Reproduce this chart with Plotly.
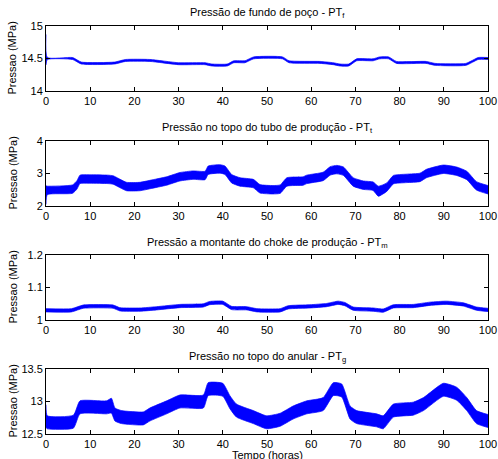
import plotly.graph_objects as go

# ---- Pressure records (MPa) versus time (hours): lower / upper envelope of the noisy signal ----

# PT_f - bottom-hole pressure
t_f = [0, 0.3, 6, 8, 15.5, 18, 23.5, 30, 36, 37.5, 41, 42.5, 45, 47, 53.5, 55, 62, 65,
       66.5, 68.5, 70.3, 74, 75.5, 77.5, 79.3, 86, 88, 95, 97.8, 100]
pt_f_low = [14.40, 14.485, 14.485, 14.415, 14.415, 14.455, 14.455, 14.405, 14.405, 14.385,
            14.385, 14.435, 14.435, 14.495, 14.495, 14.435, 14.425, 14.405, 14.385, 14.385,
            14.465, 14.465, 14.495, 14.495, 14.425, 14.425, 14.395, 14.395, 14.485, 14.485]
pt_f_high = [14.87, 14.515, 14.515, 14.445, 14.445, 14.485, 14.485, 14.435, 14.435, 14.415,
             14.415, 14.465, 14.465, 14.525, 14.525, 14.465, 14.455, 14.435, 14.415, 14.415,
             14.495, 14.495, 14.525, 14.525, 14.455, 14.455, 14.425, 14.425, 14.515, 14.515]

# PT_t - tubing-head pressure
t_t = [0, 0.3, 6, 7, 7.7, 10, 14, 15.2, 18.2, 21.3, 23.5, 27.3, 30.3, 33.3, 36, 36.7, 39.4,
       40.5, 42, 43.9, 46.9, 48.4, 51.4, 53, 54.5, 58.2, 59, 62.7, 64.3, 65.8, 67.3, 69.5,
       71.8, 74, 75.2, 77.1, 78.6, 81.6, 84.6, 86.1, 89.9, 92.9, 95.2, 97.4, 100]
pt_t_low = [2.05, 2.35, 2.39, 2.52, 2.69, 2.70, 2.69, 2.67, 2.47, 2.47, 2.53, 2.64, 2.77,
            2.82, 2.81, 2.97, 3.01, 2.97, 2.71, 2.61, 2.56, 2.40, 2.37, 2.39, 2.61, 2.64,
            2.69, 2.78, 2.95, 2.99, 2.94, 2.61, 2.51, 2.48, 2.30, 2.45, 2.68, 2.72, 2.75,
            2.87, 3.00, 2.94, 2.81, 2.49, 2.37]
pt_t_high = [2.62, 2.61, 2.65, 2.78, 2.95, 2.96, 2.95, 2.93, 2.73, 2.73, 2.79, 2.90, 3.03,
             3.08, 3.07, 3.23, 3.27, 3.23, 2.97, 2.87, 2.82, 2.66, 2.63, 2.65, 2.87, 2.90,
             2.95, 3.04, 3.21, 3.25, 3.20, 2.87, 2.77, 2.74, 2.61, 2.71, 2.94, 2.98, 3.01,
             3.13, 3.26, 3.20, 3.07, 2.75, 2.63]

# PT_m - upstream of the production choke
t_m = [0, 5.8, 8.4, 15.2, 16.7, 21.3, 25, 30.3, 35.6, 37, 40, 42, 45.4, 47.7, 53, 54.8,
       59.7, 63.5, 66.1, 67.6, 69.5, 74, 76.3, 78.6, 83.1, 86.9, 90.6, 94.4, 97.4, 100]
pt_m_low = [1.025, 1.025, 1.036, 1.036, 1.028, 1.027, 1.031, 1.038, 1.040, 1.047, 1.048,
            1.032, 1.031, 1.025, 1.025, 1.034, 1.037, 1.041, 1.048, 1.044, 1.030, 1.027,
            1.024, 1.037, 1.038, 1.045, 1.048, 1.043, 1.030, 1.026]
pt_m_high = [1.035, 1.035, 1.046, 1.046, 1.038, 1.037, 1.041, 1.048, 1.050, 1.057, 1.058,
             1.042, 1.041, 1.035, 1.035, 1.044, 1.047, 1.051, 1.058, 1.054, 1.040, 1.037,
             1.034, 1.047, 1.048, 1.055, 1.058, 1.053, 1.040, 1.036]

# PT_g - annulus-head pressure
t_g = [0, 0.3, 6.2, 7.7, 13.7, 14.8, 15.6, 17.1, 22, 23.5, 27.3, 30.3, 35.6, 36.7, 40,
       41.6, 43.1, 46.9, 49.9, 53, 55.9, 59, 62.7, 65, 66.9, 68.8, 70.3, 74.8, 76.3, 78.6,
       83.1, 85.4, 89.9, 92.9, 95.2, 97.4, 100]
pt_g_low = [12.60, 12.58, 12.59, 12.81, 12.81, 12.82, 12.70, 12.66, 12.64, 12.70, 12.81,
            12.90, 12.90, 13.09, 13.08, 12.89, 12.76, 12.66, 12.58, 12.62, 12.73, 12.81,
            12.86, 13.09, 13.07, 12.73, 12.66, 12.61, 12.58, 12.76, 12.79, 12.86, 13.08,
            13.02, 12.86, 12.66, 12.60]
pt_g_high = [12.95, 12.78, 12.79, 13.01, 13.01, 13.05, 12.90, 12.86, 12.84, 12.90, 13.01,
             13.10, 13.10, 13.29, 13.28, 13.09, 12.96, 12.86, 12.78, 12.82, 12.93, 13.01,
             13.06, 13.29, 13.27, 12.93, 12.86, 12.81, 12.78, 12.96, 12.99, 13.06, 13.28,
             13.22, 13.06, 12.86, 12.80]

titles = [
    "Pressão de fundo de poço - PT<sub>f</sub>",
    "Pressão no topo do tubo de produção - PT<sub>t</sub>",
    "Pressão a montante do choke de produção - PT<sub>m</sub>",
    "Pressão no topo do anular - PT<sub>g</sub>",
]
y_ticks = [[14, 14.5, 15], [2, 3, 4], [1, 1.1, 1.2], [12.5, 13, 13.5]]
y_tick_text = [["14", "14.5", "15"], ["2", "3", "4"], ["1", "1.1", "1.2"],
               ["12.5", "13", "13.5"]]
x_ticks = list(range(0, 101, 10))
y_label = "Pressao (MPa)"
x_label = "Tempo (horas)"

series = [(t_f, pt_f_low, pt_f_high), (t_t, pt_t_low, pt_t_high),
          (t_m, pt_m_low, pt_m_high), (t_g, pt_g_low, pt_g_high)]

# ---- layout geometry (pixels in a 498 x 459 page) ----
W, H = 498, 459
x_left, x_right = 46, 488
panel_px = [(26, 91), (141, 206), (255, 320), (369, 434)]
title_px = [13, 128, 243, 357]

FONT = "Liberation Sans, Arial, Helvetica, sans-serif"
BLUE = "#0000ff"

fig = go.Figure()
annotations = []

for i, ((t, lo, hi), (top, bot)) in enumerate(zip(series, panel_px)):
    n = "" if i == 0 else str(i + 1)
    xa, ya = "x" + n, "y" + n
    fig.add_trace(go.Scatter(x=t, y=lo, mode="lines", xaxis=xa, yaxis=ya,
                             line=dict(color=BLUE, width=0.7, shape="spline",
                                       smoothing=0.5),
                             showlegend=False, hoverinfo="skip"))
    fig.add_trace(go.Scatter(x=t, y=hi, mode="lines", xaxis=xa, yaxis=ya,
                             line=dict(color=BLUE, width=0.7, shape="spline",
                                       smoothing=0.5),
                             fill="tonexty", fillcolor=BLUE, showlegend=False,
                             hoverinfo="skip"))

    dom_y = [1 - bot / H, 1 - top / H]
    common = dict(showline=True, linecolor="black", linewidth=1, mirror="ticks",
                  ticks="inside", ticklen=4, tickcolor="black", tickwidth=1,
                  showgrid=False, zeroline=False, automargin=False,
                  tickfont=dict(family=FONT, size=11, color="black"))
    fig.layout["xaxis" + n] = dict(domain=[x_left / W, x_right / W], anchor=ya,
                                   range=[0, 100], tickvals=x_ticks, **common)
    fig.layout["yaxis" + n] = dict(domain=dom_y, anchor=xa,
                                   range=[y_ticks[i][0], y_ticks[i][-1]],
                                   tickvals=y_ticks[i], ticktext=y_tick_text[i],
                                   **common)

    annotations.append(dict(text=titles[i], x=(x_left + x_right) / 2 / W,
                            y=1 - title_px[i] / H, xref="paper", yref="paper",
                            xanchor="center", yanchor="middle", showarrow=False,
                            font=dict(family=FONT, size=11, color="black")))
    annotations.append(dict(text=y_label, x=12 / W, y=1 - (top + bot) / 2 / H,
                            xref="paper", yref="paper", xanchor="center",
                            yanchor="middle", textangle=-90, showarrow=False,
                            font=dict(family=FONT, size=11, color="black")))

annotations.append(dict(text=x_label, x=(x_left + x_right) / 2 / W, y=1 - 454.5 / H,
                        xref="paper", yref="paper", xanchor="center", yanchor="middle",
                        showarrow=False, font=dict(family=FONT, size=11, color="black")))

fig.update_layout(template="none", width=W, height=H,
                  margin=dict(l=0, r=0, t=0, b=0, pad=0),
                  paper_bgcolor="white", plot_bgcolor="white",
                  annotations=annotations, showlegend=False)

fig.write_html("out.html")
